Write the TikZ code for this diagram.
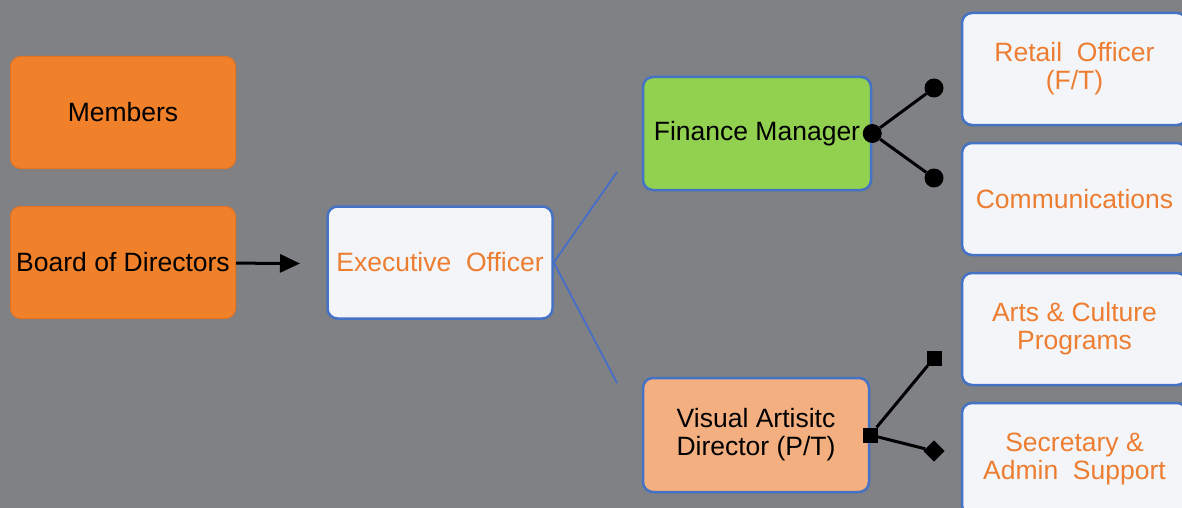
\documentclass[tikz,border=0pt]{standalone}
\usepackage{fontspec}
\setmainfont{Liberation Sans}
\usetikzlibrary{shapes.geometric, arrows.meta, shadows}

\definecolor{bggray}{RGB}{128,129,133}
\definecolor{orangefill}{RGB}{240,128,42}
\definecolor{orangeedge}{RGB}{226,116,34}
\definecolor{whitefill}{RGB}{243,245,249}
\definecolor{boxblue}{RGB}{68,114,196}
\definecolor{lineblue}{RGB}{70,110,200}
\definecolor{textorange}{RGB}{237,125,49}
\definecolor{greenfill}{RGB}{146,208,80}
\definecolor{peachfill}{RGB}{244,175,128}

\tikzstyle{box} = [rectangle, rounded corners=10pt, minimum width=225pt, minimum height=112pt, text centered, align=center, inner sep=2pt, font=\fontsize{26.5}{28}\selectfont, drop shadow={shadow xshift=2pt, shadow yshift=-3pt, opacity=0.5}]
\tikzstyle{orangebox} = [box, fill=orangefill, draw=orangeedge, line width=1pt]
\tikzstyle{whitebox} = [box, fill=whitefill, draw=boxblue, line width=2.5pt, text=textorange]
\tikzstyle{greenbox} = [box, fill=greenfill, draw=boxblue, line width=2.5pt, minimum width=228pt, minimum height=113pt]
\tikzstyle{peachbox} = [box, fill=peachfill, draw=boxblue, line width=2.5pt, minimum width=226pt, minimum height=114pt]
\tikzstyle{arrow} = [line width=3pt, -{Triangle[length=20pt,width=18pt]}]
\tikzstyle{link} = [line width=3pt]
\tikzstyle{blueline} = [draw=lineblue, line width=1.8pt]
\tikzstyle{dot} = [circle, fill=black, inner sep=0pt, minimum size=19pt]
\tikzstyle{sqtip} = [rectangle, fill=black, inner sep=0pt, minimum size=15pt]

\begin{document}
\begin{tikzpicture}[x=1pt, y=1pt, node distance=150pt]

        \useasboundingbox (0,0) rectangle (1182,-508);
        \clip (0,0) rectangle (1182,-508);
        \fill [bggray] (0,0) rectangle (1182,-508);

        \node (members) [orangebox] at (123,-112.5) {Members};
        \node (board) [orangebox, below of=members] {Board of Directors};
        \node (execOfficer) [whitebox, right of=board, xshift=167pt] {Executive\ \ Officer};
        \node (finance) [greenbox] at (757,-133.5) {Finance Manager};
        \node (visual) [peachbox] at (756,-435) {Visual Artisitc\\Director (P/T)};

        \node (retail) [whitebox] at (1074.5,-69) {Retail\ \ Officer\\(F/T)};
        \node (comms) [whitebox, below of=retail, node distance=130pt] {Communications};
        \node (arts) [whitebox, below of=comms, node distance=130pt] {Arts \& Culture\\Programs};
        \node (secretary) [whitebox, below of=arts, node distance=130pt] {Secretary \&\\Admin\ \ Support};

        \coordinate (arrowEnd) at (300,-263.5);
        \coordinate (upEnd) at (617,-172);
        \coordinate (downEnd) at (617,-383);

        \node (fmDot) [dot] at (finance.east) {};
        \node (fmTop) [dot] at (934,-88) {};
        \node (fmBot) [dot] at (934,-178) {};
        \node (vaSq) [sqtip] at (visual.east) {};
        \node (vaTop) [sqtip] at (934,-358) {};
        \node (vaBot) [sqtip, rotate=45] at (934,-451) {};

        \draw [arrow] (board) -- (arrowEnd);
        \draw [blueline] (execOfficer.east) -- (upEnd);
        \draw [blueline] (execOfficer.east) -- (downEnd);
        \draw [link] (fmDot) -- (fmTop);
        \draw [link] (fmDot) -- (fmBot);
        \draw [link] (vaSq) -- (vaTop);
        \draw [link] (vaSq) -- (vaBot);

    \end{tikzpicture}
\end{document}
